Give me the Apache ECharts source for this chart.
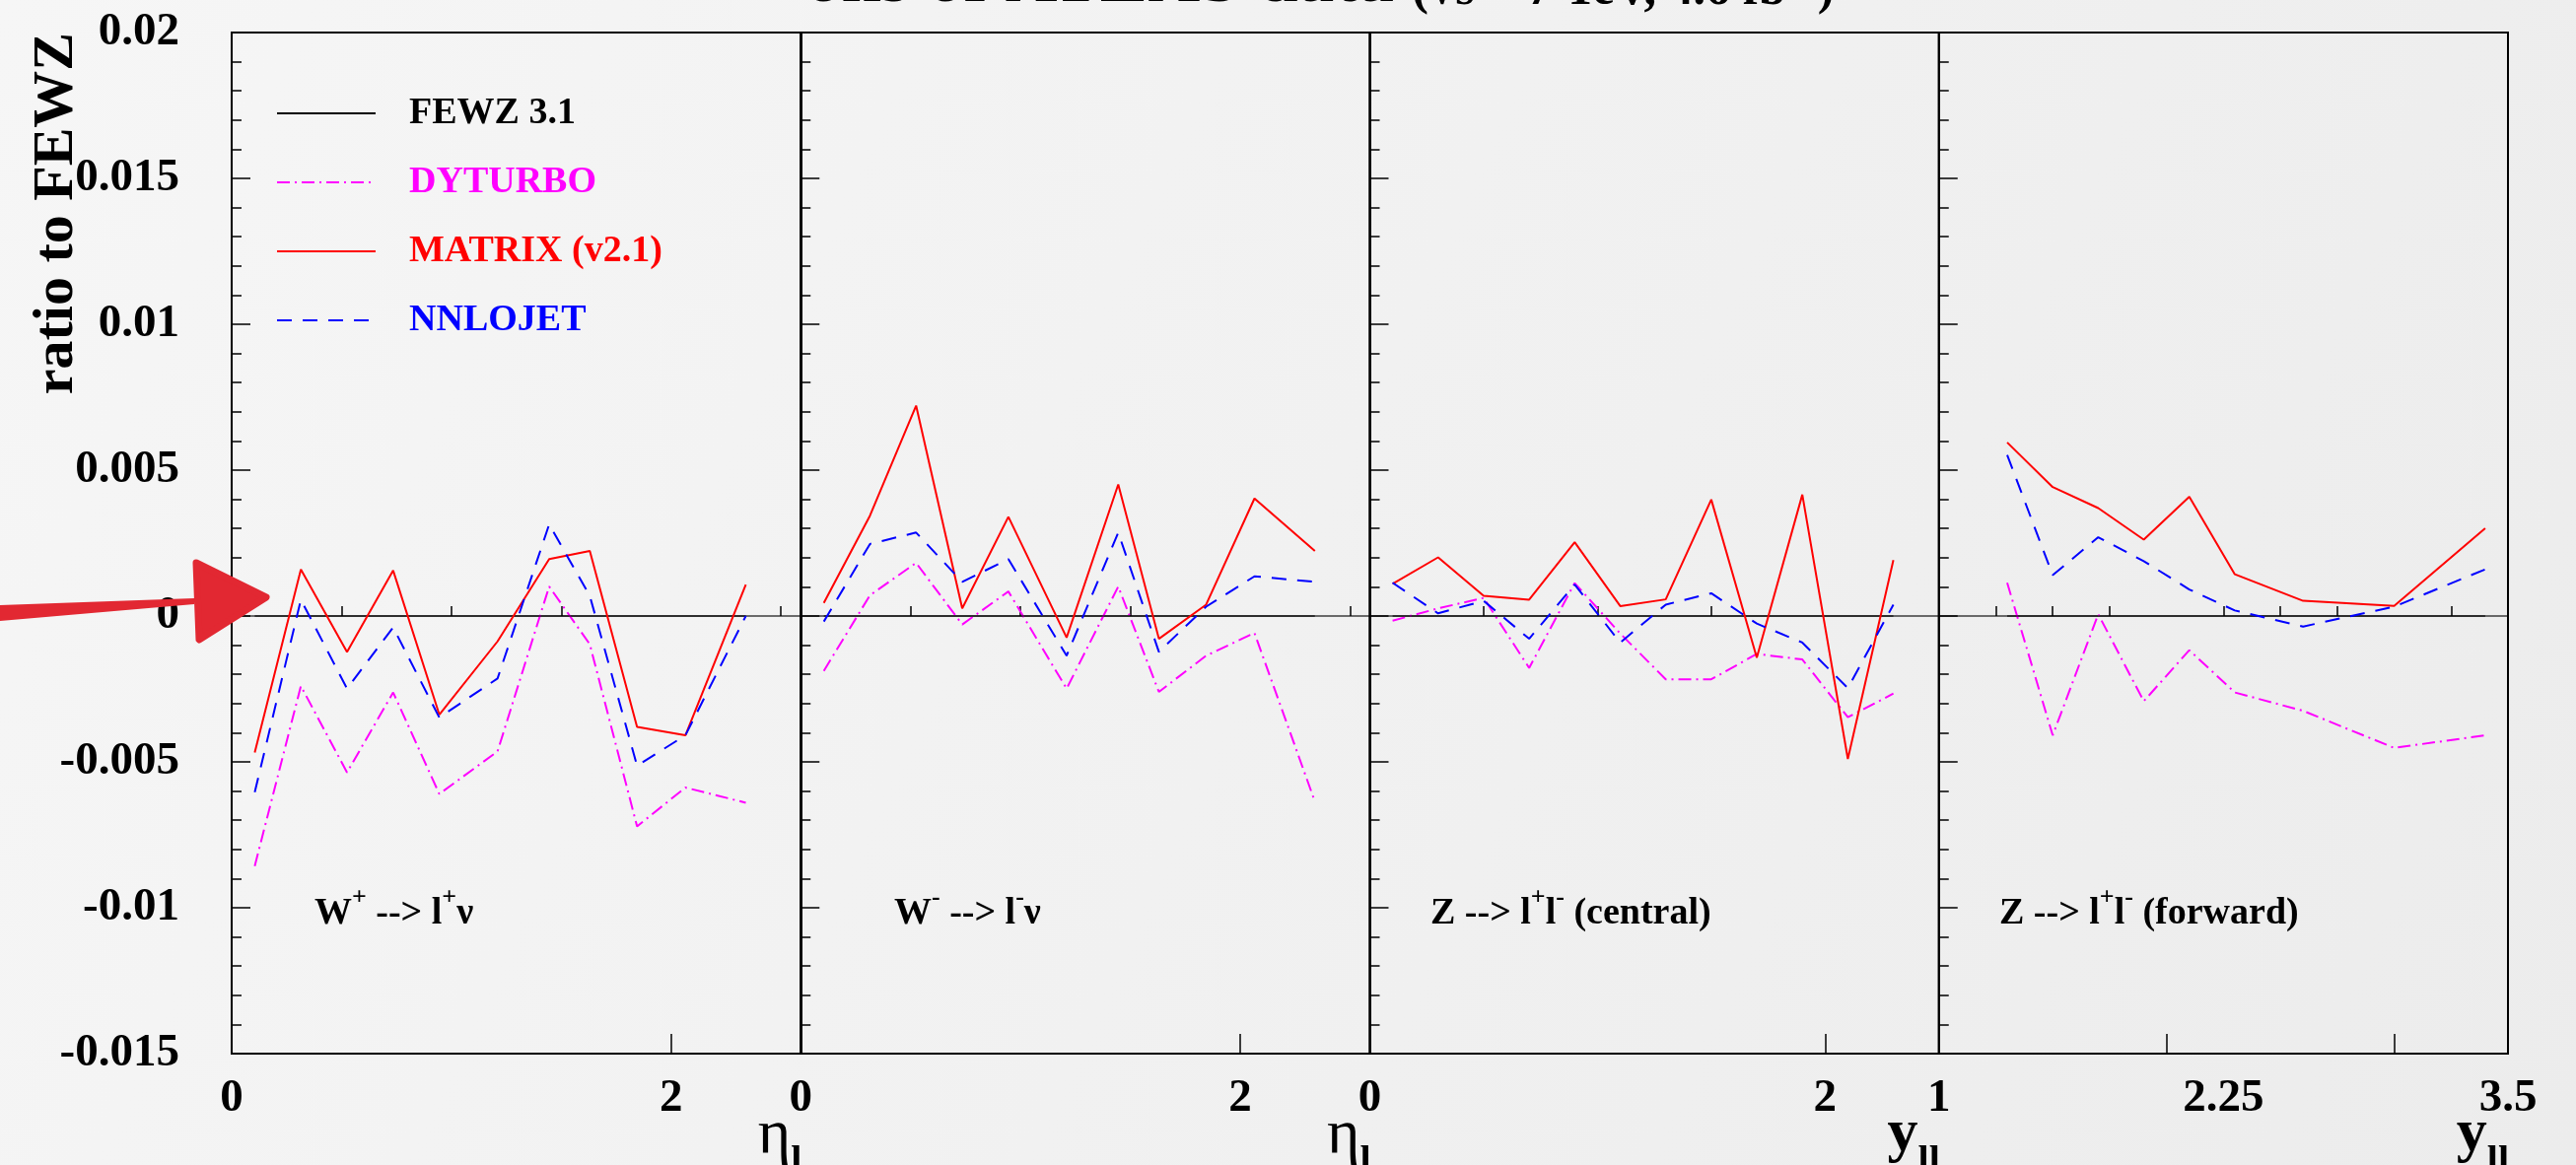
<!DOCTYPE html>
<html>
<head>
<meta charset="utf-8">
<script src="https://cdn.jsdelivr.net/npm/echarts@6/dist/echarts.min.js"></script>
<style>html,body{margin:0;padding:0;background:#f2f2f2}#c{width:2613px;height:1182px}</style>
</head>
<body>
<div id="c"></div>
<script>
// ---- x positions (bin centres) ----
const etaW = [0.105, 0.315, 0.525, 0.735, 0.945, 1.21, 1.445, 1.63, 1.845, 2.065, 2.34];
const yZc = [0.1, 0.3, 0.5, 0.7, 0.9, 1.1, 1.3, 1.5, 1.7, 1.9, 2.1, 2.3];
const yZf = [1.3, 1.5, 1.7, 1.9, 2.1, 2.3, 2.6, 3.0, 3.4];

// ---- W+ -> l+ nu ----
const wpFEWZ    = [0, 0, 0, 0, 0, 0, 0, 0, 0, 0, 0];
const wpDYTURBO = [-0.00857, -0.0024, -0.00536, -0.00262, -0.0061, -0.00464, 0.00101, -0.00097, -0.00721, -0.00588, -0.0064];
const wpMATRIX  = [-0.00468, 0.0016, -0.00123, 0.00156, -0.00338, -0.00087, 0.00195, 0.00223, -0.0038, -0.00409, 0.00108];
const wpNNLOJET = [-0.00604, 0.00056, -0.00249, -0.00039, -0.00348, -0.00214, 0.00314, 0.00069, -0.00513, -0.00409, 0.0];

// ---- W- -> l- nu ----
const wmFEWZ    = [0, 0, 0, 0, 0, 0, 0, 0, 0, 0, 0];
const wmDYTURBO = [-0.00188, 0.00071, 0.00182, -0.00029, 0.00084, -0.00249, 0.00101, -0.0026, -0.00136, -0.00058, -0.00636];
const wmMATRIX  = [0.00045, 0.00344, 0.00721, 0.00026, 0.0034, -0.00074, 0.00451, -0.00078, 0.00039, 0.00403, 0.00223];
const wmNNLOJET = [-0.00019, 0.00247, 0.00286, 0.00117, 0.00195, -0.00136, 0.00286, -0.00123, 0.00032, 0.00136, 0.00117];

// ---- Z central ----
const zcFEWZ    = [0, 0, 0, 0, 0, 0, 0, 0, 0, 0, 0, 0];
const zcDYTURBO = [-0.00016, 0.00026, 0.00062, -0.00178, 0.00113, -0.0006, -0.00217, -0.00217, -0.0013, -0.00149, -0.00347, -0.00266];
const zcMATRIX  = [0.0011, 0.00201, 0.00069, 0.00056, 0.00253, 0.00034, 0.00057, 0.00399, -0.00143, 0.00416, -0.0049, 0.00192];
const zcNNLOJET = [0.00114, 0.00009, 0.00052, -0.00078, 0.00108, -0.00091, 0.00039, 0.00078, -0.00026, -0.00091, -0.00247, 0.00039];

// ---- Z forward ----
const zfFEWZ    = [0, 0, 0, 0, 0, 0, 0, 0, 0];
const zfDYTURBO = [0.00114, -0.00409, 0.00006, -0.00292, -0.00117, -0.00262, -0.00325, -0.00452, -0.00409];
const zfMATRIX  = [0.00595, 0.00442, 0.0037, 0.00262, 0.00409, 0.00143, 0.00052, 0.00035, 0.00301];
const zfNNLOJET = [0.00552, 0.0014, 0.0027, 0.00188, 0.00091, 0.00019, -0.00036, 0.00032, 0.0016];

// ---- axis ranges and tick labels ----
const xMin = [0, 0, 0, 1];
const xMax = [2.59, 2.59, 2.5, 3.5];
const xLabels = [[0, 2], [0, 2], [0, 2], [1, 2.25, 3.5]];
const xMajorTicks = [[2], [2], [2], [2, 3]];
const xMinorTicks = [[0.5, 1, 1.5, 2.5], [0.5, 1, 1.5, 2.5], [0.5, 1, 1.5], [1.25, 1.5, 1.75, 2.25, 2.5, 2.75, 3.25]];
const yMin = -0.015, yMax = 0.02, yStep = 0.005;

const seriesNames = ['FEWZ 3.1', 'DYTURBO', 'MATRIX (v2.1)', 'NNLOJET'];
const panelLabels = ['{n|W}{s|+}{n| --> l}{s|+}{n|ν}', '{n|W}{s|-}{n| --> l}{s|-}{n|ν}',
  '{n|Z --> l}{s|+}{n|l}{s|-}{n| (central)}', '{n|Z --> l}{s|+}{n|l}{s|-}{n| (forward)}'];
const axisNames = ['{e|η}{s|l}', '{e|η}{s|l}', '{y|y}{s|ll}', '{y|y}{s|ll}'];
const titleText = '{a|ons of ATLAS data }{b|(√s = 7 TeV, 4.6 fb⁻¹)}';

const panelX = [etaW, etaW, yZc, yZf];
const panelData = [
  [wpFEWZ, wpDYTURBO, wpMATRIX, wpNNLOJET],
  [wmFEWZ, wmDYTURBO, wmMATRIX, wmNNLOJET],
  [zcFEWZ, zcDYTURBO, zcMATRIX, zcNNLOJET],
  [zfFEWZ, zfDYTURBO, zfMATRIX, zfNNLOJET]
];

// ---- styles ----
const FONT = 'Liberation Serif';
const styles = [
  {color: '#000000', type: 'solid', width: 1.5},
  {color: '#ff00ff', type: [13, 5, 2, 5], width: 2},
  {color: '#ff0000', type: 'solid', width: 2},
  {color: '#0000ff', type: [15, 11], width: 2}
];

const plotL = 235, plotR = 2544, plotT = 33, plotB = 1069;
const pw = (plotR - plotL) / 4;

const grids = [], xAxes = [], yAxes = [], series = [], graphics = [];
for (let p = 0; p < 4; p++) {
  grids.push({left: plotL + p * pw, width: pw, top: plotT, height: plotB - plotT,
    show: true, borderColor: '#000', borderWidth: 2, backgroundColor: 'transparent', containLabel: false});
  // main x axis: labels + major ticks
  xAxes.push({type: 'value', gridIndex: p, min: xMin[p], max: xMax[p],
    axisLine: {show: true, onZero: false, lineStyle: {color: '#000', width: 2}},
    axisTick: {show: true, inside: true, length: 20, customValues: xMajorTicks[p], lineStyle: {color: '#000', width: 1.5}},
    axisLabel: {show: true, customValues: xLabels[p], margin: 22, color: '#000', fontFamily: FONT, fontWeight: 'bold', fontSize: 47, hideOverlap: false,
      formatter: v => String(v)},
    splitLine: {show: false}});
  // secondary x axis: minor ticks
  xAxes.push({type: 'value', gridIndex: p, min: xMin[p], max: xMax[p], position: 'bottom',
    axisLine: {show: false},
    axisTick: {show: true, inside: true, length: 10, customValues: xMinorTicks[p], lineStyle: {color: '#000', width: 1.5}},
    axisLabel: {show: false}, splitLine: {show: false}});
  yAxes.push({type: 'value', gridIndex: p, min: yMin, max: yMax, interval: yStep,
    axisLine: {show: true, lineStyle: {color: '#000', width: 2}},
    axisTick: {show: true, inside: true, length: 19, lineStyle: {color: '#000', width: 1.5}},
    minorTick: {show: true, splitNumber: 5, length: 10, lineStyle: {color: '#000', width: 1.5}},
    axisLabel: {show: p === 0, margin: 53, color: '#000', fontFamily: FONT, fontWeight: 'bold', fontSize: 47},
    splitLine: {show: false}});

  for (let s = 0; s < 4; s++) {
    const xs = panelX[p], ys = panelData[p][s];
    const ser = {name: seriesNames[s], type: 'line', xAxisIndex: p * 2, yAxisIndex: p,
      data: xs.map((x, i) => [x, ys[i]]), symbol: 'none', showSymbol: false,
      lineStyle: styles[s], itemStyle: {color: styles[s].color}, z: 3 + s, silent: true, animation: false};
    if (s === 0) {
      ser.lineStyle = Object.assign({}, styles[0], {opacity: 0.75});
      ser.markLine = {silent: true, symbol: 'none', label: {show: false},
        lineStyle: {color: '#000', type: 'solid', width: 1.5, opacity: 0.75}, data: [{yAxis: 0}], animation: false};
    }
    series.push(ser);
  }

  // panel label
  graphics.push({type: 'text', left: [319, 907, 1451, 2028][p], top: 898,
    style: {text: panelLabels[p], fill: '#000', rich: {
      n: {fontFamily: FONT, fontWeight: 'bold', fontSize: 38, lineHeight: 48, verticalAlign: 'bottom', fill: '#000'},
      s: {fontFamily: FONT, fontWeight: 'bold', fontSize: 26, lineHeight: 48, verticalAlign: 'top', fill: '#000'}}}});
  // axis name
  graphics.push({type: 'text', right: 2613 - (plotL + (p + 1) * pw) - 1, top: 1120,
    style: {text: axisNames[p], fill: '#000', rich: {
      e: {fontFamily: FONT, fontWeight: 'normal', fontSize: 64, lineHeight: 66, verticalAlign: 'top', fill: '#000'},
      y: {fontFamily: FONT, fontWeight: 'bold', fontSize: 62, lineHeight: 66, verticalAlign: 'top', fill: '#000'},
      s: {fontFamily: FONT, fontWeight: 'bold', fontSize: 40, lineHeight: 66, verticalAlign: 'bottom', fill: '#000', padding: [0, 0, -14, 0]}}}});
}

// y axis title
graphics.push({type: 'text', x: 58, y: 33, rotation: Math.PI / 2,
  style: {text: 'ratio to FEWZ', fill: '#000', font: 'bold 58px "Liberation Serif"', align: 'right', verticalAlign: 'middle'}});
// clipped title at the very top
graphics.push({type: 'text', x: 817, y: 19,
  style: {text: titleText, fill: '#000', align: 'left', verticalAlign: 'bottom', rich: {
    a: {fontFamily: FONT, fontWeight: 'bold', fontSize: 73, lineHeight: 80, verticalAlign: 'bottom', fill: '#000'},
    b: {fontFamily: FONT, fontWeight: 'bold', fontSize: 50, lineHeight: 80, verticalAlign: 'bottom', fill: '#000', padding: [0, 0, 3, 0]}}}});
// red annotation arrow
graphics.push({type: 'polygon', z: 100, shape: {points: [[0, 614], [197, 607], [197, 613], [0, 630]]},
  style: {fill: '#e22832'}});
graphics.push({type: 'polygon', z: 100, shape: {points: [[199, 571], [270, 606], [202, 649]]},
  style: {fill: '#e22832', stroke: '#e22832', lineWidth: 7, lineJoin: 'round'}});

const chart = echarts.init(document.getElementById('c'), null, {renderer: 'canvas'});
chart.setOption({
  animation: false,
  backgroundColor: new echarts.graphic.LinearGradient(0, 0, 1, 1, [{offset: 0, color: '#f6f6f6'}, {offset: 1, color: '#ececec'}]),
  grid: grids, xAxis: xAxes, yAxis: yAxes, series: series,
  legend: {orient: 'vertical', left: 275, top: 90, itemWidth: 100, itemHeight: 30, itemGap: 30, selectedMode: false,
    itemStyle: {opacity: 0, borderWidth: 0},
    lineStyle: {opacity: 1},
    data: seriesNames.map((n, i) => ({name: n, textStyle: {color: styles[i].color}})),
    textStyle: {fontFamily: FONT, fontWeight: 'bold', fontSize: 38, lineHeight: 40, padding: [0, 0, 0, 29]}},
  graphic: graphics
});
</script>
</body>
</html>
